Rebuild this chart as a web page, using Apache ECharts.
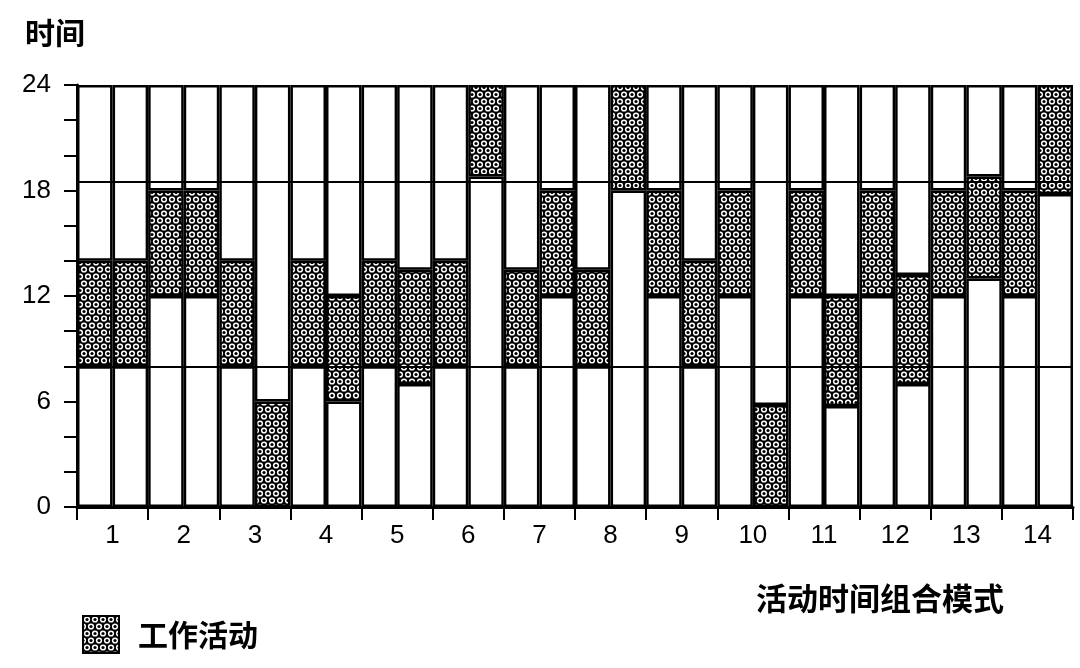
<!DOCTYPE html>
<html>
<head>
<meta charset="utf-8">
<script src="https://cdn.jsdelivr.net/npm/echarts@6/dist/echarts.min.js"></script>
<style>
html,body{margin:0;padding:0;background:#fff;}
#chart{width:1080px;height:668px;}
</style>
</head>
<body>
<div id="chart"></div>
<script>
// Activity-time combination patterns (two bars per pattern)
var categories = ['1','2','3','4','5','6','7','8','9','10','11','12','13','14'];
// work activity (dotted) span of the first bar in each pattern
var workStartA = [8, 12, 8, 8, 8, 8, 8, 8, 12, 12, 12, 12, 12, 12];
var workEndA   = [14, 18, 14, 14, 14, 14, 13.5, 13.5, 18, 18, 18, 18, 18, 18];
// work activity (dotted) span of the second bar in each pattern
var workStartB = [8, 12, 0, 6, 7, 18.8, 12, 18, 8, 0, 5.75, 7, 13, 17.8];
var workEndB   = [14, 18, 6, 12, 13.5, 24, 18, 24, 14, 5.8, 12, 13.2, 18.8, 24];
// reference lines across the chart
var refLines = [8, 18.5];
var yTicks = [0, 6, 12, 18, 24];
var dayHours = 24;

function nz(v){ return v > 0.001 ? +v.toFixed(3) : null; }
function lowPart(s){ return s.map(function(v){ return nz(v); }); }
function midPart(s,e){ return s.map(function(v,i){ return nz(e[i]-v); }); }
function highPart(e){ return e.map(function(v){ return nz(dayHours - v); }); }

// stipple pattern for work activity
var tile = document.createElement('canvas');
tile.width = 8; tile.height = 14;
var c = tile.getContext('2d');
c.fillStyle = '#000'; c.fillRect(0,0,8,14);
function ring(x,y){
  c.fillStyle = '#fff'; c.beginPath(); c.arc(x,y,3.1,0,Math.PI*2); c.fill();
  c.fillStyle = '#000'; c.beginPath(); c.arc(x,y,1.6,0,Math.PI*2); c.fill();
}
ring(4,3.5); ring(0,10.5); ring(8,10.5);
var dotted = {image: tile, repeat: 'repeat'};

var border = {borderColor:'#000', borderWidth:2.5};
function whiteSeries(stack, data){
  return {type:'bar', stack:stack, data:data, barGap:0, barCategoryGap:0,
    itemStyle:Object.assign({color:'#fff'}, border), silent:true};
}
function workSeries(stack, data){
  return {name:'工作活动', type:'bar', stack:stack, data:data, barGap:0, barCategoryGap:0,
    itemStyle:Object.assign({color:dotted}, border), silent:true};
}

var seriesList = [
  whiteSeries('A', lowPart(workStartA)),
  workSeries('A', midPart(workStartA, workEndA)),
  whiteSeries('A', highPart(workEndA)),
  whiteSeries('B', lowPart(workStartB)),
  workSeries('B', midPart(workStartB, workEndB)),
  whiteSeries('B', highPart(workEndB))
];
seriesList[5].markLine = {
  silent:true, symbol:'none', label:{show:false},
  lineStyle:{color:'#000', width:2, type:'solid'},
  data: refLines.map(function(v){ return {yAxis:v}; })
};

var cjk = '"Noto Sans CJK SC", sans-serif';
var latin = '"Liberation Sans", Arial, sans-serif';

var chart = echarts.init(document.getElementById('chart'));
chart.setOption({
  animation:false,
  backgroundColor:'#fff',
  title:[
    {text:'时间', left:20, top:13, textStyle:{fontFamily:cjk, fontSize:30, fontWeight:'bold', color:'#000'}},
    {text:'活动时间组合模式', left:751, top:578, textStyle:{fontFamily:cjk, fontSize:31, fontWeight:'bold', color:'#000'}}
  ],
  legend:{
    data:['工作活动'], left:77, top:610, icon:'rect', itemWidth:36, itemHeight:37,
    selectedMode:false,
    textStyle:{fontFamily:cjk, fontSize:30, fontWeight:'bold', color:'#000', padding:[0,0,0,14]}
  },
  grid:{left:77, right:7, top:85, bottom:161, containLabel:false},
  xAxis:{
    type:'category', data:categories,
    axisLine:{lineStyle:{color:'#000', width:3}},
    axisTick:{show:true, length:13, lineStyle:{color:'#000', width:2}},
    axisLabel:{fontFamily:latin, fontSize:26, color:'#000', margin:16},
    splitLine:{show:false}
  },
  yAxis:{
    type:'value', min:0, max:24, interval:6,
    axisLine:{show:true, lineStyle:{color:'#000', width:3}},
    axisTick:{show:true, length:13, lineStyle:{color:'#000', width:2}},
    minorTick:{show:true, splitNumber:3, length:13, lineStyle:{color:'#000', width:2}},
    axisLabel:{fontFamily:latin, fontSize:26, color:'#000', margin:26,
      formatter:function(v){ return yTicks.indexOf(v) >= 0 ? String(v) : ''; }},
    splitLine:{show:false}
  },
  series: seriesList
});
</script>
</body>
</html>
